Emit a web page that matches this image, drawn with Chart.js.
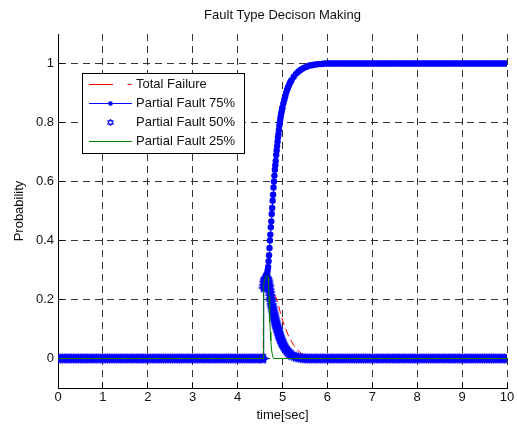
<!DOCTYPE html>
<html>
<head>
<meta charset="utf-8">
<title>Fault Type Decison Making</title>
<script src="https://cdn.jsdelivr.net/npm/chart.js@4.4.1/dist/chart.umd.min.js"></script>
<style>
  html, body { margin: 0; padding: 0; background: #fff; }
  #wrap { width: 517px; height: 425px; }
</style>
</head>
<body>
<div id="wrap"><canvas id="fault-chart" width="517" height="425"></canvas></div>
<script>
// shared time base for the two marker series (finer steps around the fault)
var timeSec = [
  0, 0.05, 0.1, 0.15, 0.2, 0.25, 0.3, 0.35, 0.4, 0.45,
  0.5, 0.55, 0.6, 0.65, 0.7, 0.75, 0.8, 0.85, 0.9, 0.95,
  1, 1.05, 1.1, 1.15, 1.2, 1.25, 1.3, 1.35, 1.4, 1.45,
  1.5, 1.55, 1.6, 1.65, 1.7, 1.75, 1.8, 1.85, 1.9, 1.95,
  2, 2.05, 2.1, 2.15, 2.2, 2.25, 2.3, 2.35, 2.4, 2.45,
  2.5, 2.55, 2.6, 2.65, 2.7, 2.75, 2.8, 2.85, 2.9, 2.95,
  3, 3.05, 3.1, 3.15, 3.2, 3.25, 3.3, 3.35, 3.4, 3.45,
  3.5, 3.55, 3.6, 3.65, 3.7, 3.75, 3.8, 3.85, 3.9, 3.95,
  4, 4.05, 4.1, 4.15, 4.2, 4.25, 4.3, 4.35, 4.4, 4.45,
  4.5, 4.55, 4.57,
  4.58, 4.59, 4.6, 4.61, 4.62, 4.63, 4.64, 4.65, 4.66, 4.67,
  4.68, 4.69, 4.7, 4.71, 4.72, 4.73, 4.74, 4.75, 4.76, 4.77,
  4.78, 4.79, 4.8, 4.81, 4.82, 4.83, 4.84, 4.85, 4.86, 4.87,
  4.88, 4.89, 4.9, 4.91, 4.92, 4.93, 4.94, 4.95, 4.96, 4.97,
  4.98, 4.99, 5,
  5.02, 5.04, 5.06, 5.08, 5.1, 5.12, 5.14, 5.16, 5.18, 5.2,
  5.25, 5.3, 5.35, 5.4, 5.45, 5.5,
  5.55, 5.6, 5.65, 5.7, 5.75, 5.8, 5.85, 5.9, 5.95,
  6, 6.05, 6.1, 6.15, 6.2, 6.25, 6.3, 6.35, 6.4, 6.45,
  6.5, 6.55, 6.6, 6.65, 6.7, 6.75, 6.8, 6.85, 6.9, 6.95,
  7, 7.05, 7.1, 7.15, 7.2, 7.25, 7.3, 7.35, 7.4, 7.45,
  7.5, 7.55, 7.6, 7.65, 7.7, 7.75, 7.8, 7.85, 7.9, 7.95,
  8, 8.05, 8.1, 8.15, 8.2, 8.25, 8.3, 8.35, 8.4, 8.45,
  8.5, 8.55, 8.6, 8.65, 8.7, 8.75, 8.8, 8.85, 8.9, 8.95,
  9, 9.05, 9.1, 9.15, 9.2, 9.25, 9.3, 9.35, 9.4, 9.45,
  9.5, 9.55, 9.6, 9.65, 9.7, 9.75, 9.8, 9.85, 9.9, 9.95,
  10
];

var partial75 = [
  0, 0, 0, 0, 0, 0, 0, 0, 0, 0,
  0, 0, 0, 0, 0, 0, 0, 0, 0, 0,
  0, 0, 0, 0, 0, 0, 0, 0, 0, 0,
  0, 0, 0, 0, 0, 0, 0, 0, 0, 0,
  0, 0, 0, 0, 0, 0, 0, 0, 0, 0,
  0, 0, 0, 0, 0, 0, 0, 0, 0, 0,
  0, 0, 0, 0, 0, 0, 0, 0, 0, 0,
  0, 0, 0, 0, 0, 0, 0, 0, 0, 0,
  0, 0, 0, 0, 0, 0, 0, 0, 0, 0,
  0, 0, 0,
  0.24, 0.245, 0.25, 0.255, 0.26, 0.265, 0.27, 0.28, 0.29, 0.3,
  0.31, 0.33, 0.35, 0.375, 0.4, 0.42, 0.445, 0.465, 0.49, 0.51,
  0.535, 0.555, 0.58, 0.6, 0.62, 0.64, 0.655, 0.67, 0.69, 0.705,
  0.72, 0.735, 0.75, 0.76, 0.775, 0.79, 0.8, 0.81, 0.82, 0.83,
  0.837, 0.845, 0.852,
  0.865, 0.877, 0.888, 0.9, 0.91, 0.918, 0.925, 0.932, 0.938, 0.943,
  0.955, 0.965, 0.972, 0.978, 0.983, 0.987,
  0.99, 0.993, 0.994, 0.996, 0.997, 0.998, 0.998, 0.999, 1,
  1, 1, 1, 1, 1, 1, 1, 1, 1, 1,
  1, 1, 1, 1, 1, 1, 1, 1, 1, 1,
  1, 1, 1, 1, 1, 1, 1, 1, 1, 1,
  1, 1, 1, 1, 1, 1, 1, 1, 1, 1,
  1, 1, 1, 1, 1, 1, 1, 1, 1, 1,
  1, 1, 1, 1, 1, 1, 1, 1, 1, 1,
  1, 1, 1, 1, 1, 1, 1, 1, 1, 1,
  1, 1, 1, 1, 1, 1, 1, 1, 1, 1,
  1
];

var partial50 = [
  0, 0, 0, 0, 0, 0, 0, 0, 0, 0,
  0, 0, 0, 0, 0, 0, 0, 0, 0, 0,
  0, 0, 0, 0, 0, 0, 0, 0, 0, 0,
  0, 0, 0, 0, 0, 0, 0, 0, 0, 0,
  0, 0, 0, 0, 0, 0, 0, 0, 0, 0,
  0, 0, 0, 0, 0, 0, 0, 0, 0, 0,
  0, 0, 0, 0, 0, 0, 0, 0, 0, 0,
  0, 0, 0, 0, 0, 0, 0, 0, 0, 0,
  0, 0, 0, 0, 0, 0, 0, 0, 0, 0,
  0, 0, 0,
  0.24, 0.25, 0.26, 0.265, 0.27, 0.273, 0.275, 0.274, 0.27, 0.265,
  0.26, 0.252, 0.245, 0.235, 0.225, 0.215, 0.205, 0.195, 0.185, 0.177,
  0.17, 0.162, 0.155, 0.148, 0.141, 0.134, 0.127, 0.121, 0.115, 0.11,
  0.105, 0.1, 0.095, 0.09, 0.085, 0.08, 0.075, 0.07, 0.066, 0.062,
  0.058, 0.054, 0.05,
  0.044, 0.039, 0.034, 0.03, 0.026, 0.022, 0.019, 0.016, 0.013, 0.011,
  0.008, 0.005, 0.003, 0.002, 0.001, 0,
  0, 0, 0, 0, 0, 0, 0, 0, 0, 0,
  0, 0, 0, 0, 0, 0, 0, 0, 0, 0,
  0, 0, 0, 0, 0, 0, 0, 0, 0, 0,
  0, 0, 0, 0, 0, 0, 0, 0, 0, 0,
  0, 0, 0, 0, 0, 0, 0, 0, 0, 0,
  0, 0, 0, 0, 0, 0, 0, 0, 0, 0,
  0, 0, 0, 0, 0, 0, 0, 0, 0, 0,
  0, 0, 0, 0, 0, 0, 0, 0, 0, 0,
  0, 0, 0, 0, 0, 0, 0, 0, 0, 0
];

// line-only series, sampled only where they change
var failTime = [0, 4.57, 4.58, 4.62, 4.66, 4.7, 4.75, 4.8, 4.86, 4.92, 4.97, 5.05, 5.15, 5.25, 5.35, 5.45, 5.55, 5.65, 5.75, 10];
var failProb = [0, 0, 0.26, 0.285, 0.28, 0.265, 0.245, 0.225, 0.205, 0.175, 0.145, 0.108, 0.071, 0.045, 0.026, 0.014, 0.006, 0.002, 0, 0];

var fault25Time = [0, 4.57, 4.58, 4.6, 4.62, 4.64, 4.66, 4.68, 4.69, 4.7, 4.71, 4.72, 4.73, 4.74, 4.76, 4.78, 4.8, 10];
var fault25Prob = [0, 0, 0.25, 0.265, 0.275, 0.28, 0.28, 0.275, 0.25, 0.21, 0.165, 0.125, 0.09, 0.06, 0.025, 0.008, 0, 0];

var xTickValues = [0, 1, 2, 3, 4, 5, 6, 7, 8, 9, 10];
var yTickValues = [0, 0.2, 0.4, 0.6, 0.8, 1];

var FONT = "'Liberation Sans', Arial, Helvetica, sans-serif";
var TEXT = "#111";

function toPoints(xs, ys) {
  return xs.map(function (x, i) { return { x: x, y: ys[i] }; });
}

// two triangles of a six-point star, as vertex lists
function starTriangles(cx, cy, r, rot) {
  return [rot, rot + 60].map(function (start) {
    var pts = [];
    for (var k = 0; k < 3; k++) {
      var a = (start + k * 120) * Math.PI / 180;
      pts.push([cx + r * Math.cos(a), cy + r * Math.sin(a)]);
    }
    return pts;
  });
}

function tracePath(ctx, pts) {
  ctx.beginPath();
  pts.forEach(function (p, k) {
    if (k === 0) ctx.moveTo(p[0], p[1]); else ctx.lineTo(p[0], p[1]);
  });
  ctx.closePath();
}

// solid star used as the marker of the 50% series
function makeHexagram(size) {
  var c = document.createElement("canvas");
  c.width = size; c.height = size;
  var g = c.getContext("2d");
  g.fillStyle = "#0000ff";
  starTriangles(size / 2, size / 2, size / 2 - 0.3, 0).forEach(function (tri) {
    tracePath(g, tri);
    g.fill();
  });
  return c;
}

var hexagram = makeHexagram(12);

// matlab style inward tick marks on the left and bottom axes
var innerTicksPlugin = {
  id: "innerTicks",
  beforeDatasetsDraw: function (chart) {
    var ctx = chart.ctx, xs = chart.scales.x, ys = chart.scales.y, area = chart.chartArea;
    ctx.save();
    ctx.strokeStyle = "#000";
    ctx.lineWidth = 1;
    ctx.beginPath();
    xTickValues.forEach(function (v) {
      var px = Math.round(xs.getPixelForValue(v) - 0.5) + 0.5;
      ctx.moveTo(px, area.bottom);
      ctx.lineTo(px, area.bottom - 5);
    });
    yTickValues.forEach(function (v) {
      var py = Math.round(ys.getPixelForValue(v) - 0.5) + 0.5;
      ctx.moveTo(area.left, py);
      ctx.lineTo(area.left + 5, py);
    });
    ctx.stroke();
    ctx.restore();
  }
};

// boxed legend inside the axes, upper left
var legendBoxPlugin = {
  id: "legendBox",
  afterDatasetsDraw: function (chart) {
    var ctx = chart.ctx, area = chart.chartArea;
    var left = area.left + 24.5, top = area.top + 39.5, w = 162, h = 80;
    ctx.save();
    ctx.fillStyle = "#fff";
    ctx.fillRect(left, top, w, h);
    ctx.strokeStyle = "#000";
    ctx.lineWidth = 1;
    ctx.strokeRect(left, top, w, h);

    var x0 = left + 6.5, x1 = left + 49.5, xm = left + 28;
    chart.data.datasets.forEach(function (ds, i) {
      var y = top + 11 + i * 19;
      ctx.save();
      if (ds.showLine !== false) {
        ctx.strokeStyle = ds.borderColor;
        ctx.lineWidth = 1;
        if (i === 0) ctx.setLineDash([24, 14.5, 4, 14.5]);
        ctx.beginPath();
        ctx.moveTo(x0, y);
        ctx.lineTo(x1, y);
        ctx.stroke();
      }
      ctx.setLineDash([]);
      if (i === 1) {
        ctx.fillStyle = "#0000ff";
        ctx.beginPath();
        ctx.arc(xm, y, 2.3, 0, Math.PI * 2);
        ctx.fill();
      }
      if (i === 2) {
        ctx.strokeStyle = "#0000ff";
        ctx.lineWidth = 1;
        starTriangles(xm, y, 3.4, -90).forEach(function (tri) {
          tracePath(ctx, tri);
          ctx.stroke();
        });
      }
      ctx.fillStyle = TEXT;
      ctx.font = "13px " + FONT;
      ctx.textBaseline = "middle";
      ctx.textAlign = "left";
      ctx.fillText(ds.label, left + 53.5, y);
      ctx.restore();
    });
    ctx.restore();
  }
};

var canvas = document.getElementById("fault-chart");

new Chart(canvas, {
  type: "line",
  data: {
    datasets: [
      {
        label: "Total Failure",
        data: toPoints(failTime, failProb),
        borderColor: "#ff0000",
        borderWidth: 1,
        borderDash: [8, 4],
        pointRadius: 0,
        fill: false,
        tension: 0,
        order: 4
      },
      {
        label: "Partial Fault 75%",
        data: toPoints(timeSec, partial75),
        borderColor: "#0000ff",
        backgroundColor: "#0000ff",
        borderWidth: 1,
        pointRadius: 3.2,
        pointBorderWidth: 0,
        pointBackgroundColor: "#0000ff",
        fill: false,
        tension: 0,
        order: 3
      },
      {
        label: "Partial Fault 50%",
        data: toPoints(timeSec, partial50),
        showLine: false,
        borderColor: "#0000ff",
        pointStyle: hexagram,
        pointRadius: 6,
        order: 2
      },
      {
        label: "Partial Fault 25%",
        data: toPoints(fault25Time, fault25Prob),
        borderColor: "#008000",
        borderWidth: 1,
        pointRadius: 0,
        fill: false,
        tension: 0,
        order: 1
      }
    ]
  },
  options: {
    responsive: false,
    animation: false,
    events: [],
    layout: { padding: { left: 0, right: 10, top: 0, bottom: 0 } },
    plugins: {
      legend: { display: false },
      tooltip: { enabled: false },
      title: {
        display: true,
        text: "Fault Type Decison Making",
        fullSize: false,
        color: TEXT,
        font: { family: FONT, size: 13, weight: "normal" },
        padding: { top: 7.5, bottom: 10.9 }
      }
    },
    scales: {
      x: {
        type: "linear",
        min: 0,
        max: 10,
        afterBuildTicks: function (scale) {
          scale.ticks = xTickValues.map(function (v) { return { value: v }; });
        },
        afterFit: function (scale) { scale.height = 37; },
        grid: { color: "#333", lineWidth: 1, drawTicks: false },
        border: { display: true, color: "#000", width: 1, dash: [7, 5] },
        ticks: {
          autoSkip: false,
          maxRotation: 0,
          padding: 2,
          color: TEXT,
          font: { family: FONT, size: 13 },
          callback: function (v) { return String(v); }
        },
        title: {
          display: true,
          text: "time[sec]",
          color: TEXT,
          font: { family: FONT, size: 13 },
          padding: { top: 0, bottom: 1.5 }
        }
      },
      y: {
        type: "linear",
        min: -0.1,
        max: 1.1,
        afterBuildTicks: function (scale) {
          scale.ticks = yTickValues.map(function (v) { return { value: v }; });
        },
        afterFit: function (scale) { scale.width = 58; },
        grid: { color: "#333", lineWidth: 1, drawTicks: false },
        border: { display: true, color: "#000", width: 1, dash: [7, 5] },
        ticks: {
          autoSkip: false,
          padding: 4,
          color: TEXT,
          font: { family: FONT, size: 13 },
          callback: function (v) { return String(Math.round(v * 10) / 10); }
        },
        title: {
          display: true,
          text: "Probability",
          color: TEXT,
          font: { family: FONT, size: 13 },
          padding: { top: 12, bottom: 0 }
        }
      }
    }
  },
  plugins: [innerTicksPlugin, legendBoxPlugin]
});
</script>
</body>
</html>
